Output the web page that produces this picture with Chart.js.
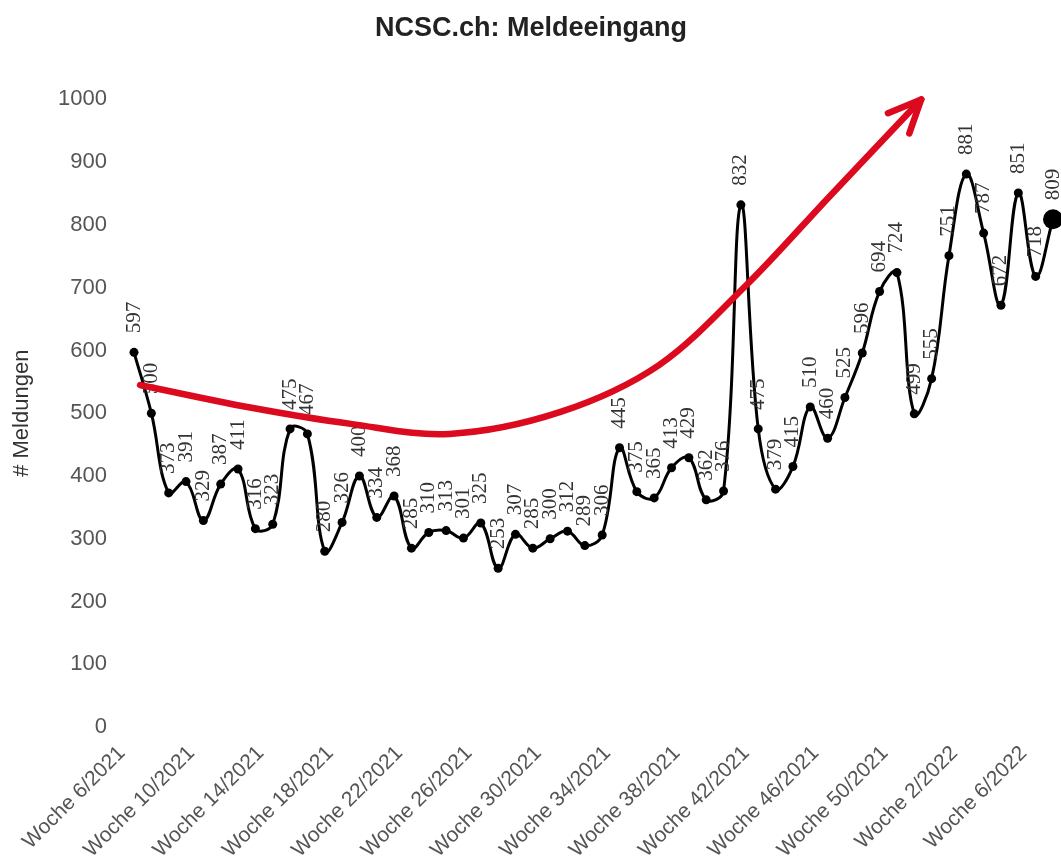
<!DOCTYPE html>
<html>
<head>
<meta charset="utf-8">
<script src="https://cdn.jsdelivr.net/npm/chart.js@4"></script>
<style>
  html, body { margin: 0; padding: 0; background: #fff; }
  #wrap { width: 1061px; height: 866px; }
</style>
</head>
<body>
<div id="wrap"><canvas id="chart" width="1061" height="866"></canvas></div>
<script>
const weeks = [
  'Woche 6/2021', 'Woche 7/2021', 'Woche 8/2021', 'Woche 9/2021', 'Woche 10/2021',
  'Woche 11/2021', 'Woche 12/2021', 'Woche 13/2021', 'Woche 14/2021', 'Woche 15/2021',
  'Woche 16/2021', 'Woche 17/2021', 'Woche 18/2021', 'Woche 19/2021', 'Woche 20/2021',
  'Woche 21/2021', 'Woche 22/2021', 'Woche 23/2021', 'Woche 24/2021', 'Woche 25/2021',
  'Woche 26/2021', 'Woche 27/2021', 'Woche 28/2021', 'Woche 29/2021', 'Woche 30/2021',
  'Woche 31/2021', 'Woche 32/2021', 'Woche 33/2021', 'Woche 34/2021', 'Woche 35/2021',
  'Woche 36/2021', 'Woche 37/2021', 'Woche 38/2021', 'Woche 39/2021', 'Woche 40/2021',
  'Woche 41/2021', 'Woche 42/2021', 'Woche 43/2021', 'Woche 44/2021', 'Woche 45/2021',
  'Woche 46/2021', 'Woche 47/2021', 'Woche 48/2021', 'Woche 49/2021', 'Woche 50/2021',
  'Woche 51/2021', 'Woche 52/2021', 'Woche 1/2022', 'Woche 2/2022', 'Woche 3/2022',
  'Woche 4/2022', 'Woche 5/2022', 'Woche 6/2022', 'Woche 7/2022'
];

const meldungen = [
  597, 500, 373, 391, 329, 387, 411, 316, 323, 475,
  467, 280, 326, 400, 334, 368, 285, 310, 313, 301,
  325, 253, 307, 285, 300, 312, 289, 306, 445, 375,
  365, 413, 429, 362, 376, 832, 475, 379, 415, 510,
  460, 525, 596, 694, 724, 499, 555, 751, 881, 787,
  672, 851, 718, 809
];

const yTicks = [0, 100, 200, 300, 400, 500, 600, 700, 800, 900, 1000];

// red trend arrow, in (week index, value) space
const arrowIdx = [0.35, 6.7, 12.5, 18.2, 24.6, 30.3, 35.35, 40.1, 45.4];
const arrowVal = [545, 509, 483, 467, 502, 577, 705, 845, 1000];

const pointLabels = {
  id: 'pointLabels',
  afterDatasetsDraw(chart) {
    const ctx = chart.ctx;
    const meta = chart.getDatasetMeta(0);
    ctx.save();
    ctx.font = '21px "Liberation Serif"';
    ctx.fillStyle = '#333';
    ctx.textAlign = 'left';
    ctx.textBaseline = 'middle';
    meta.data.forEach((pt, i) => {
      ctx.save();
      ctx.translate(pt.x, pt.y - 19);
      ctx.rotate(-Math.PI / 2);
      ctx.fillText(String(meldungen[i]), 0, 0);
      ctx.restore();
    });
    ctx.restore();
  }
};

const trendArrow = {
  id: 'trendArrow',
  afterDraw(chart) {
    const {ctx, scales: {x, y}} = chart;
    const pts = arrowIdx.map((v, i) => [x.getPixelForValue(v), y.getPixelForValue(arrowVal[i])]);
    ctx.save();
    ctx.strokeStyle = '#dc0a1e';
    ctx.lineWidth = 6.5;
    ctx.lineCap = 'round';
    ctx.lineJoin = 'round';
    ctx.beginPath();
    ctx.moveTo(pts[0][0], pts[0][1]);
    let lastCp = pts[0];
    for (let i = 0; i < pts.length - 1; i++) {
      const p0 = pts[i - 1] || pts[i];
      const p1 = pts[i];
      const p2 = pts[i + 1];
      const p3 = pts[i + 2] || pts[i + 1];
      const c1 = [p1[0] + (p2[0] - p0[0]) / 6, p1[1] + (p2[1] - p0[1]) / 6];
      const c2 = [p2[0] - (p3[0] - p1[0]) / 6, p2[1] - (p3[1] - p1[1]) / 6];
      ctx.bezierCurveTo(c1[0], c1[1], c2[0], c2[1], p2[0], p2[1]);
      lastCp = c2;
    }
    ctx.stroke();
    // arrow head
    const tip = pts[pts.length - 1];
    const ang = Math.atan2(tip[1] - lastCp[1], tip[0] - lastCp[0]);
    const len = 36, spread = 0.42;
    ctx.beginPath();
    ctx.moveTo(tip[0] - len * Math.cos(ang - spread), tip[1] - len * Math.sin(ang - spread));
    ctx.lineTo(tip[0], tip[1]);
    ctx.lineTo(tip[0] - len * Math.cos(ang + spread), tip[1] - len * Math.sin(ang + spread));
    ctx.stroke();
    ctx.restore();
  }
};

const lastIdx = meldungen.length - 1;

new Chart(document.getElementById('chart'), {
  type: 'line',
  data: {
    labels: weeks,
    datasets: [{
      label: '# Meldungen',
      data: meldungen,
      borderColor: '#000',
      backgroundColor: '#000',
      borderWidth: 3,
      tension: 0.4,
      pointRadius: (c) => c.dataIndex === lastIdx ? 10 : 4.5,
      pointBackgroundColor: '#000',
      pointBorderWidth: 0,
      clip: false
    }]
  },
  options: {
    responsive: false,
    animation: false,
    events: [],
    layout: { padding: { left: 9, right: 8, top: 0, bottom: 0 }, autoPadding: false },
    plugins: {
      legend: { display: false },
      tooltip: { enabled: false },
      title: {
        display: true,
        text: 'NCSC.ch: Meldeeingang',
        color: '#222',
        font: { family: '"Liberation Sans", Arial, sans-serif', size: 27, weight: 'bold' },
        padding: { top: 12, bottom: 55 }
      }
    },
    scales: {
      x: {
        grid: { display: false, drawTicks: false },
        border: { display: false },
        afterFit: (s) => { s.height = 139; s.paddingLeft = 0; s.paddingRight = 0; },
        ticks: {
          autoSkip: false,
          minRotation: 45,
          maxRotation: 45,
          padding: 14,
          labelOffset: -12,
          color: '#555',
          font: { family: '"Liberation Sans", Arial, sans-serif', size: 21 },
          callback: (v, i) => i % 4 === 0 ? weeks[i] : ''
        }
      },
      y: {
        min: yTicks[0],
        max: yTicks[yTicks.length - 1],
        grid: { display: false, drawTicks: false },
        border: { display: false },
        afterFit: (s) => { s.width = 125; },
        afterBuildTicks: (s) => { s.ticks = yTicks.map(v => ({ value: v })); },
        title: {
          display: true,
          text: '# Meldungen',
          color: '#333',
          font: { family: '"Liberation Sans", Arial, sans-serif', size: 22 },
          padding: { top: 0, bottom: 0 }
        },
        ticks: {
          padding: 27,
          color: '#555',
          font: { family: '"Liberation Sans", Arial, sans-serif', size: 22 },
          callback: (v) => String(v)
        }
      }
    }
  },
  plugins: [pointLabels, trendArrow]
});
</script>
</body>
</html>
